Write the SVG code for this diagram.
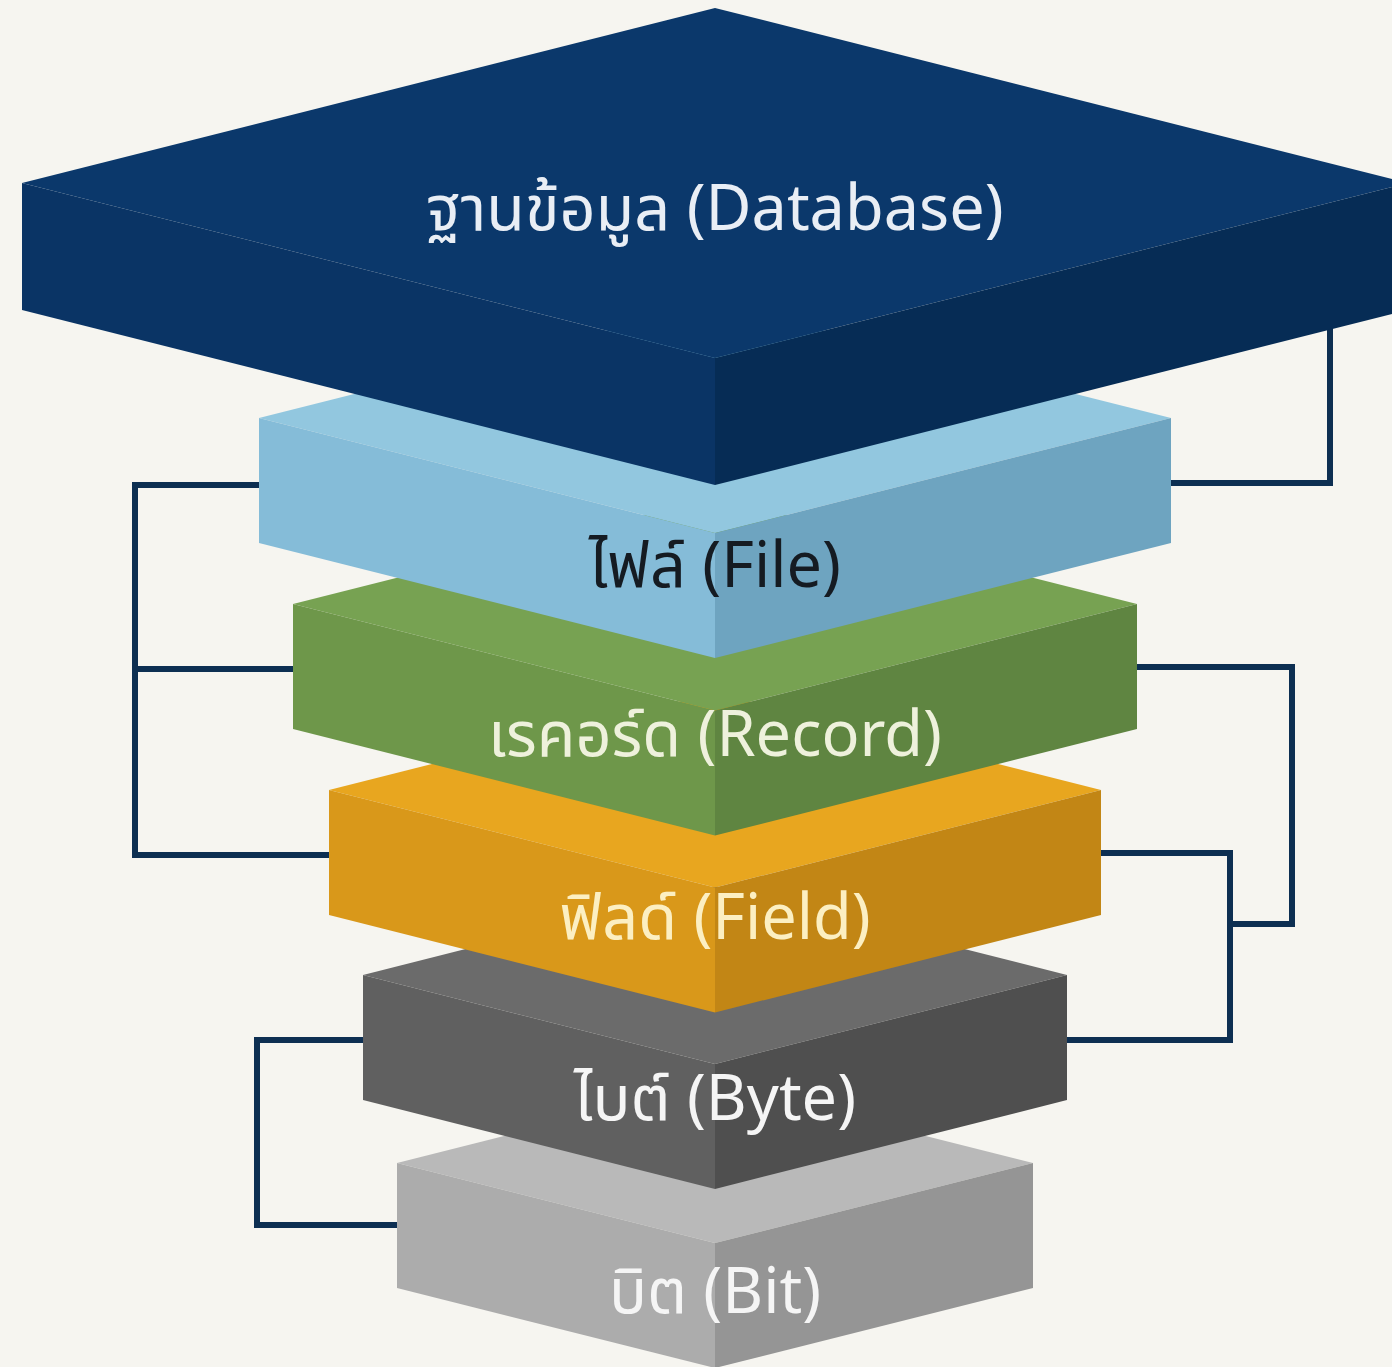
<svg xmlns="http://www.w3.org/2000/svg" width="1392" height="1367" viewBox="0 0 1392 1367">
  <style>
    .lbl { font-family: "Noto Sans Thai", "Noto Sans", "DejaVu Sans", sans-serif; font-size: 63px; text-anchor: middle; }
    .wire { fill: none; stroke: #0d2f52; stroke-width: 6; stroke-linejoin: miter; stroke-linecap: square; }
  </style>
  <rect width="1392" height="1367" fill="#f6f5f0"/>

  <!-- bracket connectors between levels -->
  <g id="connectors" class="wire">
    <path d="M260 485 H135 V855 H330 M135 669 H295"/>
    <path d="M365 1040 H257 V1225 H396"/>
    <path d="M1330 300 V483 H1171"/>
    <path d="M1138 667 H1292 V924 H1232"/>
    <path d="M1102 853 H1230 V1040 H1067"/>
  </g>

  <!-- Bit: half-width 318, corner y 1163, thickness 125 -->
  <g id="bit">
    <polygon points="397,1163 715,1083 1033,1163 715,1243" fill="#b9b9b9"/>
    <polygon points="397,1163 715,1243 715,1368 397,1288" fill="#acacac"/>
    <polygon points="715,1243 1033,1163 1033,1288 715,1368" fill="#959595"/>
    <text class="lbl" x="715" y="1313" fill="#f5f5f5">บิต (Bit)</text>
  </g>

  <!-- Byte: half-width 352, corner y 975 -->
  <g id="byte">
    <polygon points="363,975 715,886 1067,975 715,1064" fill="#6b6b6b"/>
    <polygon points="363,975 715,1064 715,1189 363,1100" fill="#606060"/>
    <polygon points="715,1064 1067,975 1067,1100 715,1189" fill="#4f4f4f"/>
    <text class="lbl" x="715" y="1120" fill="#f5f5f5">ไบต์ (Byte)</text>
  </g>

  <!-- Field: half-width 386, corner y 790 -->
  <g id="field">
    <polygon points="329,790 715,692.5 1101,790 715,887.5" fill="#e8a61f"/>
    <polygon points="329,790 715,887.5 715,1012.5 329,915" fill="#d9981a"/>
    <polygon points="715,887.5 1101,790 1101,915 715,1012.5" fill="#c28615"/>
    <text class="lbl" x="715" y="939" fill="#fcefc2">ฟิลด์ (Field)</text>
  </g>

  <!-- Record: half-width 422, corner y 604 -->
  <g id="record">
    <polygon points="293,604 715,497.5 1137,604 715,710.5" fill="#77a252"/>
    <polygon points="293,604 715,710.5 715,835.5 293,729" fill="#6e974a"/>
    <polygon points="715,710.5 1137,604 1137,729 715,835.5" fill="#5f8541"/>
    <text class="lbl" x="715" y="756" fill="#eef1dc">เรคอร์ด (Record)</text>
  </g>

  <!-- File: half-width 456, corner y 418 -->
  <g id="file">
    <polygon points="259,418 715,303 1171,418 715,533" fill="#92c7df"/>
    <polygon points="259,418 715,533 715,658 259,543" fill="#85bcd8"/>
    <polygon points="715,533 1171,418 1171,543 715,658" fill="#6ea4c0"/>
    <text class="lbl" x="715" y="587" fill="#151b22">ไฟล์ (File)</text>
  </g>

  <!-- Database: half-width 693, corner y 183, thickness 127 -->
  <g id="database">
    <polygon points="22,183 715,8 1408,183 715,358" fill="#0b386b"/>
    <polygon points="22,183 715,358 715,485 22,310" fill="#0a3465"/>
    <polygon points="715,358 1408,183 1408,310 715,485" fill="#062c55"/>
    <text class="lbl" x="715" y="230" fill="#e9eef5">ฐานข้อมูล (Database)</text>
  </g>
</svg>
